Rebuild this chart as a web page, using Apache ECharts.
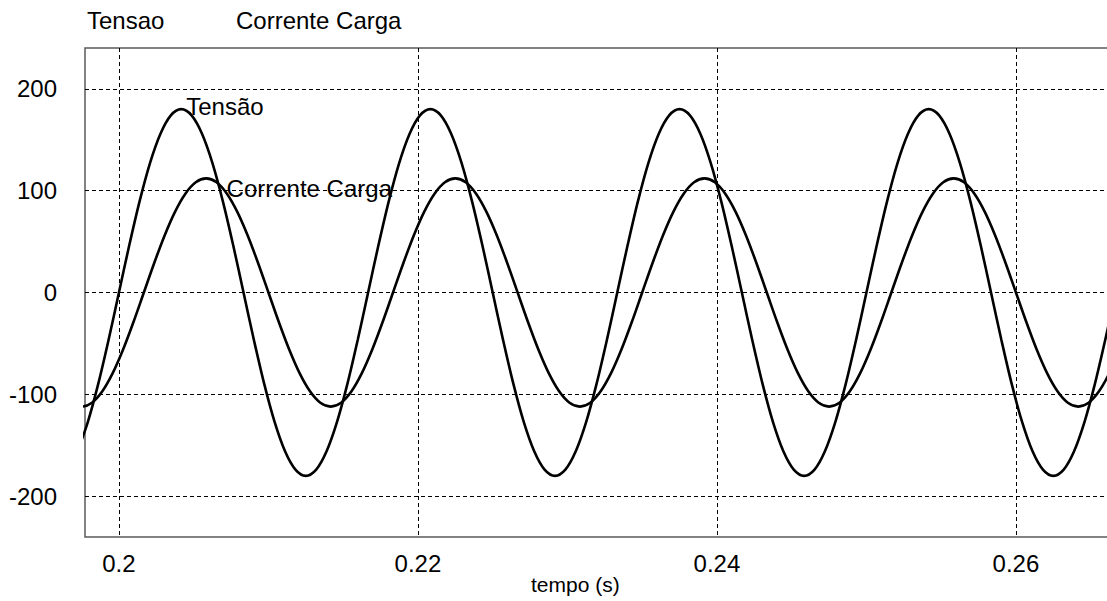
<!DOCTYPE html>
<html>
<head>
<meta charset="utf-8">
<script src="https://cdn.jsdelivr.net/npm/echarts@6/dist/echarts.min.js"></script>
<style>
html,body{margin:0;padding:0;background:#fff;}
#chart{width:1107px;height:601px;}
</style>
</head>
<body>
<div id="chart"></div>
<script>
// Tensão sample times (s)
const tempoTensao = [
0.197222,0.197917,0.198611,0.199306,
0.2,0.200694,0.201389,0.202083,0.202778,0.203472,0.204167,0.204861,0.205556,0.20625,0.206944,0.207639,
0.208333,0.209028,0.209722,0.210417,0.211111,0.211806,0.2125,0.213194,0.213889,0.214583,0.215278,0.215972,
0.216667,0.217361,0.218056,0.21875,0.219444,0.220139,0.220833,0.221528,0.222222,0.222917,0.223611,0.224306,
0.225,0.225694,0.226389,0.227083,0.227778,0.228472,0.229167,0.229861,0.230556,0.23125,0.231944,0.232639,
0.233333,0.234028,0.234722,0.235417,0.236111,0.236806,0.2375,0.238194,0.238889,0.239583,0.240278,0.240972,
0.241667,0.242361,0.243056,0.24375,0.244444,0.245139,0.245833,0.246528,0.247222,0.247917,0.248611,0.249306,
0.25,0.250694,0.251389,0.252083,0.252778,0.253472,0.254167,0.254861,0.255556,0.25625,0.256944,0.257639,
0.258333,0.259028,0.259722,0.260417,0.261111,0.261806,0.2625,0.263194,0.263889,0.264583,0.265278,0.265972,
0.266667
];
// Tensão (V)
const tensao = [
-155.9,-127.3,-90,-46.6,
0,46.6,90,127.3,155.9,173.9,180,173.9,155.9,127.3,90,46.6,0,-46.6,-90,-127.3,-155.9,-173.9,-180,-173.9,-155.9,-127.3,-90,-46.6,
0,46.6,90,127.3,155.9,173.9,180,173.9,155.9,127.3,90,46.6,0,-46.6,-90,-127.3,-155.9,-173.9,-180,-173.9,-155.9,-127.3,-90,-46.6,
0,46.6,90,127.3,155.9,173.9,180,173.9,155.9,127.3,90,46.6,0,-46.6,-90,-127.3,-155.9,-173.9,-180,-173.9,-155.9,-127.3,-90,-46.6,
0,46.6,90,127.3,155.9,173.9,180,173.9,155.9,127.3,90,46.6,0,-46.6,-90,-127.3,-155.9,-173.9,-180,-173.9,-155.9,-127.3,-90,-46.6,
0
];
// Corrente Carga sample times (s)
const tempoCorrente = [
0.196806,0.1975,0.198194,0.198889,0.199583,0.200278,0.200972,
0.201667,0.202361,0.203056,0.20375,0.204444,0.205139,0.205833,0.206528,0.207222,0.207917,0.208611,0.209306,
0.21,0.210694,0.211389,0.212083,0.212778,0.213472,0.214167,0.214861,0.215556,0.21625,0.216944,0.217639,
0.218333,0.219028,0.219722,0.220417,0.221111,0.221806,0.2225,0.223194,0.223889,0.224583,0.225278,0.225972,
0.226667,0.227361,0.228056,0.22875,0.229444,0.230139,0.230833,0.231528,0.232222,0.232917,0.233611,0.234306,
0.235,0.235694,0.236389,0.237083,0.237778,0.238472,0.239167,0.239861,0.240556,0.24125,0.241944,0.242639,
0.243333,0.244028,0.244722,0.245417,0.246111,0.246806,0.2475,0.248194,0.248889,0.249583,0.250278,0.250972,
0.251667,0.252361,0.253056,0.25375,0.254444,0.255139,0.255833,0.256528,0.257222,0.257917,0.258611,0.259306,
0.26,0.260694,0.261389,0.262083,0.262778,0.263472,0.264167,0.264861,0.265556,0.26625,0.266944
];
// Corrente Carga (A)
const corrente = [
-108.2,-112,-108.2,-97,-79.2,-56,-29,
0,29,56,79.2,97,108.2,112,108.2,97,79.2,56,29,0,-29,-56,-79.2,-97,-108.2,-112,-108.2,-97,-79.2,-56,-29,
0,29,56,79.2,97,108.2,112,108.2,97,79.2,56,29,0,-29,-56,-79.2,-97,-108.2,-112,-108.2,-97,-79.2,-56,-29,
0,29,56,79.2,97,108.2,112,108.2,97,79.2,56,29,0,-29,-56,-79.2,-97,-108.2,-112,-108.2,-97,-79.2,-56,-29,
0,29,56,79.2,97,108.2,112,108.2,97,79.2,56,29,0,-29,-56,-79.2,-97,-108.2,-112,-108.2,-97,-79.2,-56
];
const xTickLabels = ['0.2','0.22','0.24','0.26'];
const yTickLabels = ['-200','-100','0','100','200'];
const seriesNames = ['Tensao','Corrente Carga'];
const curveLabels = ['Tensão','Corrente Carga'];
const xAxisName = 'tempo (s)';

const FONT = '"Liberation Sans", Arial, sans-serif';
const chart = echarts.init(document.getElementById('chart'), null, {renderer:'svg'});

const pair = (ts, ys) => ts.map((t,i)=>[t, ys[i]]);

chart.setOption({
  animation:false,
  backgroundColor:'#fff',
  textStyle:{fontFamily:FONT},
  grid:{left:85, top:48, height:489, width:1032, outerBoundsMode:'none', containLabel:false,
        show:true, borderColor:'#5a5a5a', borderWidth:1.5, backgroundColor:'#fff'},
  xAxis:{
    type:'value', min:0.19773, max:0.26676, splitNumber:3,
    axisLine:{show:false}, axisTick:{show:false},
    axisLabel:{fontSize:24, color:'#000', fontFamily:FONT, margin:14, hideOverlap:false,
      formatter:(v)=>{const s=String(+(+v).toFixed(4)); return xTickLabels.includes(s)?s:'';}},
    splitLine:{show:true, showMinLine:false, showMaxLine:false, lineStyle:{color:'#000', width:1, type:[4,3]}}
  },
  yAxis:{
    type:'value', min:-240, max:240,
    axisLine:{show:false}, axisTick:{show:false},
    axisLabel:{fontSize:24, color:'#000', fontFamily:FONT, margin:28,
      formatter:(v)=>{const s=String(Math.round(v)); return (yTickLabels.includes(s) && Math.abs(v-Math.round(v))<1e-6)?s:'';}},
    splitLine:{show:true, showMinLine:false, showMaxLine:false, lineStyle:{color:'#000', width:1, type:[4,3]}}
  },
  graphic:[
    {type:'text', left:87, top:8, style:{text:seriesNames[0], font:'24px '+FONT, fill:'#000'}},
    {type:'text', left:236, top:8, style:{text:seriesNames[1], font:'24px '+FONT, fill:'#000'}},
    {type:'text', left:531, top:574, style:{text:xAxisName, font:'21px '+FONT, fill:'#000'}}
  ],
  series:[
    {type:'line', name:seriesNames[0], data:pair(tempoTensao, tensao), smooth:0.33, symbol:'none', clip:true,
     lineStyle:{color:'#000', width:2.6},
     markPoint:{symbolSize:0, itemStyle:{color:'rgba(0,0,0,0)'},
       data:[{coord:[0.204167,180], label:{show:true, formatter:curveLabels[0], position:'right', distance:5, offset:[0,-3], fontSize:24, color:'#000', fontFamily:FONT}}]}},
    {type:'line', name:seriesNames[1], data:pair(tempoCorrente, corrente), smooth:0.33, symbol:'none', clip:true,
     lineStyle:{color:'#000', width:2.6},
     markPoint:{symbolSize:0, itemStyle:{color:'rgba(0,0,0,0)'},
       data:[{coord:[0.2072,100], label:{show:true, formatter:curveLabels[1], position:'right', distance:0, offset:[0,-2.5], fontSize:24, color:'#000', fontFamily:FONT}}]}}
  ]
});
</script>
</body>
</html>
